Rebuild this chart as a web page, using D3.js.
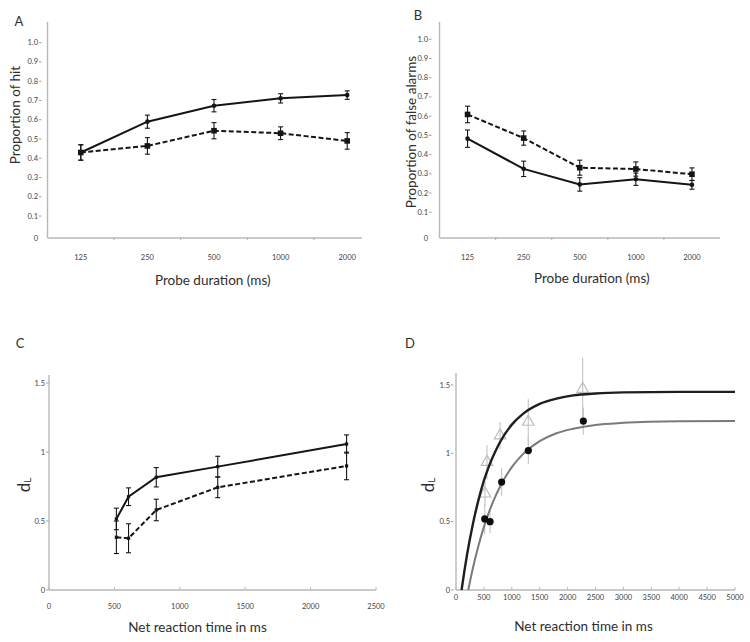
<!DOCTYPE html>
<html><head><meta charset="utf-8">
<script src="https://cdn.jsdelivr.net/npm/d3@7"></script>
<style>
body{margin:0;background:#fff;}
text{font-family:Lato,"Open Sans",sans-serif;}
</style></head>
<body>
<svg id="fig" width="750" height="642"></svg>
<script>
// ---------- DATA ----------
const durations = ["125","250","500","1000","2000"];
// Panel A: proportion of hits
const hitSolid = [0.43, 0.59, 0.673, 0.711, 0.728];
const hitSolidErr = [0.04, 0.034, 0.032, 0.024, 0.022];
const hitDashed = [0.43, 0.464, 0.543, 0.53, 0.49];
const hitDashedErr = [0.04, 0.043, 0.042, 0.033, 0.043];
// Panel B: proportion of false alarms
const faSolid = [0.483, 0.326, 0.245, 0.272, 0.243];
const faSolidErr = [0.045, 0.04, 0.035, 0.032, 0.023];
const faDashed = [0.609, 0.486, 0.332, 0.325, 0.298];
const faDashedErr = [0.043, 0.037, 0.039, 0.037, 0.033];
const propTicks = [0, 0.1, 0.2, 0.3, 0.4, 0.5, 0.6, 0.7, 0.8, 0.9, 1.0];
// Panel C: dL vs net reaction time
const rtC = [515, 608, 820, 1290, 2275];
const dlSolid = [0.515, 0.676, 0.817, 0.894, 1.058];
const dlSolidErr = [0.078, 0.064, 0.07, 0.075, 0.066];
const dlDashed = [0.382, 0.375, 0.58, 0.744, 0.899];
const dlDashedErr = [0.118, 0.105, 0.078, 0.075, 0.10];
const cXTicks = [0, 500, 1000, 1500, 2000, 2500];
const dlTicks = [0, 0.5, 1, 1.5];
// Panel D: data points and fitted curves
const rtTri = [520, 555, 790, 1295, 2270];
const dlTri = [0.705, 0.936, 1.13, 1.23, 1.47];
const dlTriErr = [0.09, 0.125, 0.10, 0.17, 0.23];
const rtDot = [515, 610, 818, 1296, 2282];
const dlDot = [0.52, 0.50, 0.79, 1.02, 1.236];
const dlDotErr = [0.11, 0.085, 0.10, 0.10, 0.10];
const curveBlackRT = [100, 150, 200, 300, 400, 500, 600, 700, 800, 1000, 1200, 1500, 1800, 2100, 2500, 3000, 4000, 5000];
const curveBlackDL = [0, 0.138, 0.263, 0.478, 0.654, 0.80, 0.916, 1.01, 1.09, 1.21, 1.289, 1.362, 1.40, 1.424, 1.438, 1.446, 1.45, 1.45];
const curveGrayRT = [220, 300, 400, 500, 600, 700, 800, 1000, 1200, 1500, 1800, 2100, 2500, 3000, 4000, 5000];
const curveGrayDL = [0, 0.155, 0.32, 0.462, 0.58, 0.68, 0.765, 0.899, 0.994, 1.089, 1.147, 1.18, 1.208, 1.223, 1.235, 1.237];
const dXTicks = [0, 500, 1000, 1500, 2000, 2500, 3000, 3500, 4000, 4500, 5000];

// ---------- DRAW ----------
const svg = d3.select("#fig");
const AX = "#b8b8b8", TXT = "#2e2e2e", LINE = "#151515";

function label(x, y, t, size, opts = {}) {
  return svg.append("text").attr("x", x).attr("y", y).text(t)
    .attr("font-size", size).attr("fill", opts.fill || TXT)
    .attr("text-anchor", opts.anchor || "middle")
    .attr("dominant-baseline", "central");
}

function errBars(g, xs, ys, es, color, cap) {
  xs.forEach((x, i) => {
    const y0 = ys[i][0], y1 = ys[i][1];
    g.append("line").attr("x1", x).attr("x2", x).attr("y1", y0).attr("y2", y1)
      .attr("stroke", color).attr("stroke-width", 1.1);
    [y0, y1].forEach(yy => g.append("line").attr("x1", x - cap).attr("x2", x + cap)
      .attr("y1", yy).attr("y2", yy).attr("stroke", color).attr("stroke-width", 1.1));
  });
}

// Probe duration panels (A, B)
function probePanel(cfg) {
  const g = svg.append("g");
  const x = d3.scaleBand().domain(durations).range([cfg.x0, cfg.x1]);
  const y = d3.scaleLinear().domain([0, 1]).range([cfg.yZero, cfg.yOne]);
  g.append("line").attr("x1", cfg.x0).attr("x2", cfg.x0).attr("y1", cfg.axisTop).attr("y2", cfg.axisY)
    .attr("stroke", AX).attr("stroke-width", 1.4);
  g.append("line").attr("x1", cfg.x0).attr("x2", cfg.axisEnd).attr("y1", cfg.axisY).attr("y2", cfg.axisY)
    .attr("stroke", AX).attr("stroke-width", 1.4);
  durations.slice(1).forEach(d => g.append("line").attr("x1", x(d)).attr("x2", x(d))
    .attr("y1", cfg.axisY - 1).attr("y2", cfg.axisY + 2).attr("stroke", AX).attr("stroke-width", 1.2));
  durations.forEach(d => label(x(d) + x.bandwidth() / 2, cfg.axisY + 19, d, 7.5, {fill: "#444"}));
  propTicks.forEach(t => {
    const yy = t === 0 ? cfg.axisY : y(t);
    label(cfg.labRight, yy, t === 0 ? "0" : d3.format(".1f")(t), 7.5, {anchor: "end", fill: "#444"});
    if (t > 0) g.append("line").attr("x1", cfg.labRight + 1).attr("x2", cfg.labRight + 3.5)
      .attr("y1", yy).attr("y2", yy).attr("stroke", "#888").attr("stroke-width", 0.8);
  });
  const cx = d => x(d) + x.bandwidth() / 2;
  const line = d3.line().x(d => cx(d[0])).y(d => y(d[1]));
  const series = [
    {v: cfg.solid, e: cfg.solidErr, dash: null, marker: "circle"},
    {v: cfg.dashed, e: cfg.dashedErr, dash: "5,2.5", marker: "square"}
  ];
  series.forEach(s => {
    errBars(g, durations.map(cx), s.v.map((v, i) => [y(v + s.e[i]), y(v - s.e[i])]), s.e, LINE, 2.5);
    g.append("path").datum(durations.map((d, i) => [d, s.v[i]])).attr("d", line)
      .attr("fill", "none").attr("stroke", LINE).attr("stroke-width", 2)
      .attr("stroke-dasharray", s.dash);
    durations.forEach((d, i) => {
      if (s.marker === "square") g.append("rect").attr("x", cx(d) - 2.8).attr("y", y(s.v[i]) - 2.8)
        .attr("width", 5.6).attr("height", 5.6).attr("fill", LINE);
      else g.append("circle").attr("cx", cx(d)).attr("cy", y(s.v[i])).attr("r", 2.3).attr("fill", LINE);
    });
  });
  label(cfg.x0 + (cfg.axisEnd - cfg.x0) / 2 + cfg.titleDx, cfg.xTitleY, "Probe duration (ms)", 13.5);
  label(cfg.yTitleX, cfg.yTitleY, cfg.yTitle, 13.5)
    .attr("transform", `rotate(-90,${cfg.yTitleX},${cfg.yTitleY})`);
  label(cfg.letterX, cfg.letterY, cfg.letter, 13);
}

probePanel({x0: 47.5, x1: 380.5, axisEnd: 362, axisY: 238, axisTop: 22, yZero: 235.3, yOne: 42.7,
  labRight: 38, solid: hitSolid, solidErr: hitSolidErr, dashed: hitDashed, dashedErr: hitDashedErr,
  xTitleY: 280, titleDx: 8, yTitle: "Proportion of hit", yTitleX: 15, yTitleY: 115,
  letter: "A", letterX: 19, letterY: 21});
probePanel({x0: 439.5, x1: 720, axisEnd: 720, axisY: 238, axisTop: 22, yZero: 231.5, yOne: 39.3,
  labRight: 428, solid: faSolid, solidErr: faSolidErr, dashed: faDashed, dashedErr: faDashedErr,
  xTitleY: 278, titleDx: 12, yTitle: "Proportion of false alarms", yTitleX: 411, yTitleY: 132,
  letter: "B", letterX: 418, letterY: 15});

// Reaction-time panels (C, D)
function rtAxes(cfg) {
  const g = svg.append("g");
  const x = d3.scaleLinear().domain(cfg.xDomain).range([cfg.x0, cfg.x1]);
  const y = d3.scaleLinear().domain([0, 1.5]).range([cfg.axisY, cfg.yTop15]);
  g.append("line").attr("x1", cfg.x0).attr("x2", cfg.x0).attr("y1", cfg.axisTop).attr("y2", cfg.axisY)
    .attr("stroke", AX).attr("stroke-width", 1.4);
  g.append("line").attr("x1", cfg.x0).attr("x2", cfg.x1).attr("y1", cfg.axisY).attr("y2", cfg.axisY)
    .attr("stroke", AX).attr("stroke-width", 1.4);
  cfg.xTicks.forEach(t => {
    g.append("line").attr("x1", x(t)).attr("x2", x(t)).attr("y1", cfg.axisY - 3).attr("y2", cfg.axisY)
      .attr("stroke", AX).attr("stroke-width", 1);
    label(x(t), cfg.xLabY, String(t), 7.5, {fill: "#444"});
  });
  dlTicks.forEach(t => {
    label(cfg.labRight, y(t), String(t), 7.5, {anchor: "end", fill: "#444"});
    g.append("line").attr("x1", cfg.labRight + 1).attr("x2", cfg.labRight + 3.5)
      .attr("y1", y(t)).attr("y2", y(t)).attr("stroke", "#888").attr("stroke-width", 0.8);
  });
  label((cfg.x0 + cfg.x1) / 2 + cfg.titleDx, cfg.xTitleY, "Net reaction time in ms", 13.5);
  const yt = svg.append("text").attr("x", cfg.yTitleX).attr("y", cfg.yTitleY)
    .attr("transform", `rotate(-90,${cfg.yTitleX},${cfg.yTitleY})`)
    .attr("text-anchor", "middle").attr("dominant-baseline", "central").attr("fill", TXT);
  yt.append("tspan").text("d").attr("font-size", 17);
  yt.append("tspan").text("L").attr("font-size", 10).attr("dy", 4);
  label(cfg.letterX, cfg.letterY, cfg.letter, 13);
  return {g, x, y};
}

// Panel C
{
  const {g, x, y} = rtAxes({xDomain: [0, 2500], x0: 49, x1: 376, axisY: 590, yTop15: 383, axisTop: 375,
    xTicks: cXTicks, xLabY: 606, labRight: 45, xTitleY: 627, titleDx: -15, yTitleX: 23, yTitleY: 485,
    letter: "C", letterX: 20, letterY: 343});
  const line = d3.line().x(d => x(d[0])).y(d => y(d[1]));
  [{v: dlSolid, e: dlSolidErr, dash: null}, {v: dlDashed, e: dlDashedErr, dash: "5,2.5"}].forEach(s => {
    errBars(g, rtC.map(x), s.v.map((v, i) => [y(v + s.e[i]), y(v - s.e[i])]), s.e, LINE, 2.5);
    g.append("path").datum(rtC.map((r, i) => [r, s.v[i]])).attr("d", line)
      .attr("fill", "none").attr("stroke", LINE).attr("stroke-width", 2).attr("stroke-dasharray", s.dash);
    rtC.forEach((r, i) => g.append("rect").attr("x", x(r) - 1.6).attr("y", y(s.v[i]) - 1.6)
      .attr("width", 3.2).attr("height", 3.2).attr("fill", LINE));
  });
}

// Panel D
{
  const {g, x, y} = rtAxes({xDomain: [0, 5000], x0: 456, x1: 735, axisY: 590, yTop15: 385, axisTop: 373,
    xTicks: dXTicks, xLabY: 597, labRight: 450, xTitleY: 626, titleDx: -12, yTitleX: 427, yTitleY: 485,
    letter: "D", letterX: 410, letterY: 343});
  const line = d3.line().x(d => x(d[0])).y(d => y(d[1])).curve(d3.curveMonotoneX);
  errBars(g, rtTri.map(x), dlTri.map((v, i) => [y(v + dlTriErr[i]), y(v - dlTriErr[i])]), dlTriErr, "#c4c4c4", 0);
  errBars(g, rtDot.map(x), dlDot.map((v, i) => [y(v + dlDotErr[i]), y(v - dlDotErr[i])]), dlDotErr, "#c4c4c4", 0);
  const tri = d3.symbol().type(d3.symbolTriangle).size(58);
  rtTri.forEach((r, i) => g.append("path").attr("d", tri)
    .attr("transform", `translate(${x(r)},${y(dlTri[i])})`)
    .attr("fill", "none").attr("stroke", "#bdbdbd").attr("stroke-width", 1.2));
  g.append("path").datum(curveGrayRT.map((r, i) => [r, curveGrayDL[i]])).attr("d", line)
    .attr("fill", "none").attr("stroke", "#7a7a7a").attr("stroke-width", 2);
  g.append("path").datum(curveBlackRT.map((r, i) => [r, curveBlackDL[i]])).attr("d", line)
    .attr("fill", "none").attr("stroke", "#1e1e1e").attr("stroke-width", 2.4);
  rtDot.forEach((r, i) => g.append("circle").attr("cx", x(r)).attr("cy", y(dlDot[i])).attr("r", 3.6)
    .attr("fill", "#0d0d0d"));
}
</script>
</body></html>
